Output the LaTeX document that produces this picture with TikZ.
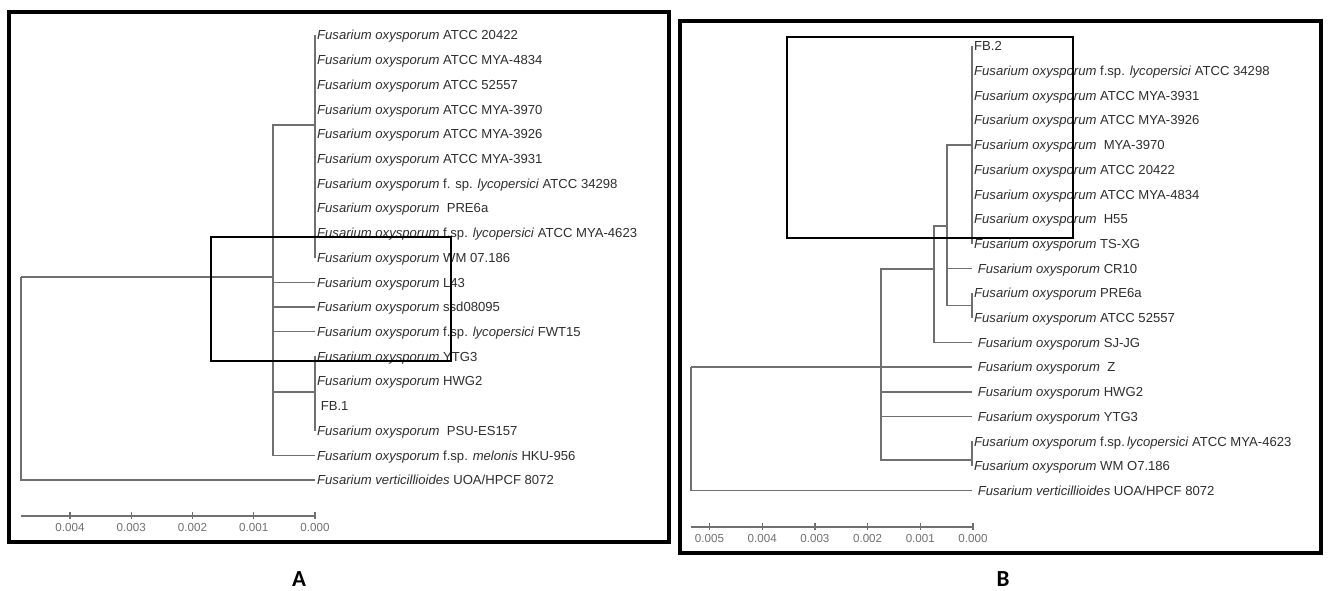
\documentclass[tikz,border=0pt]{standalone}
\usepackage{fontspec}
\setmainfont{Liberation Sans}
\newfontfamily\labfont{Carlito}
\definecolor{brgray}{HTML}{707070}
\definecolor{txtgray}{HTML}{2E2E2E}
\newcommand{\Fo}{\textit{Fusarium oxysporum}}
\begin{document}
\begin{tikzpicture}[x=1pt,y=-1pt,
  br/.style={draw=brgray,line width=1.4pt},
  leaf/.style={anchor=west,inner xsep=2pt,inner ysep=0pt,text height=12.6pt,text depth=3pt,
    font=\fontsize{13.1}{14}\selectfont,text=txtgray},
  frame/.style={draw=black,line width=4pt},
  zoombox/.style={draw=black,line width=2.3pt},
  scalebar/.style={draw=brgray,line width=1.2pt},
  ticklab/.style={font=\fontsize{11.6}{12}\selectfont,text=brgray,inner sep=0pt},
  panellab/.style={font=\labfont\bfseries\fontsize{23}{25}\selectfont,inner sep=0pt,anchor=base}]
\useasboundingbox (0,0) rectangle (1328,590);
\fill[white] (0,0) rectangle (1328,590);

% ---------------- Panel A ----------------
\draw[frame] (8.5,12) rectangle (669,542);
\node[leaf] (A1)  at (315,35.0)  {\Fo{} ATCC 20422};
\node[leaf] (A2)  at (315,59.7)  {\Fo{} ATCC MYA-4834};
\node[leaf] (A3)  at (315,84.4)  {\Fo{} ATCC 52557};
\node[leaf] (A4)  at (315,109.2) {\Fo{} ATCC MYA-3970};
\node[leaf] (A5)  at (315,133.9) {\Fo{} ATCC MYA-3926};
\node[leaf] (A6)  at (315,158.6) {\Fo{} ATCC MYA-3931};
\node[leaf] (A7)  at (315,183.3) {\Fo{} f. sp. \textit{lycopersici} ATCC 34298};
\node[leaf] (A8)  at (315,208.0) {\Fo{}\ \ PRE6a};
\node[leaf] (A9)  at (315,232.8) {\Fo{} f.sp. \textit{lycopersici} ATCC MYA-4623};
\node[leaf] (A10) at (315,257.5) {\Fo{} WM 07.186};
\node[leaf] (A11) at (315,282.2) {\Fo{} L43};
\node[leaf] (A12) at (315,306.9) {\Fo{} ssd08095};
\node[leaf] (A13) at (315,331.6) {\Fo{} f.sp. \textit{lycopersici} FWT15};
\node[leaf] (A14) at (315,356.4) {\Fo{} YTG3};
\node[leaf] (A15) at (315,381.1) {\Fo{} HWG2};
\node[leaf] (A16) at (315,405.8) {\ FB.1};
\node[leaf] (A17) at (315,430.5) {\Fo{}\ \ PSU-ES157};
\node[leaf] (A18) at (315,455.2) {\Fo{} f.sp. \textit{melonis} HKU-956};
\node[leaf] (A19) at (315,480.0) {\textit{Fusarium verticillioides} UOA/HPCF 8072};

\coordinate (cA1) at (315,125);
\coordinate (cA2) at (315,392);
\coordinate (pA)  at (273,277);
\coordinate (rA)  at (21,277);

\foreach \n in {A1,A2,A3,A4,A5,A6,A7,A8,A9,A10} \draw[br] (cA1) |- (\n.west);
\foreach \n in {A14,A15,A16,A17} \draw[br] (cA2) |- (\n.west);
\foreach \n in {cA1,A11.west,A12.west,A13.west,cA2,A18.west} \draw[br] (pA) |- (\n);
\draw[br] (rA) |- (pA);
\draw[br] (rA) |- (A19.west);

% scale bar A
\draw[scalebar] (21,516) -- (315,516);
\foreach \x/\t in {70/0.004,131.25/0.003,192.5/0.002,253.75/0.001,315/0.000}{
  \draw[scalebar] (\x,512) -- (\x,519);
  \node[ticklab] at (\x,527.5) {\t};
}
\draw[zoombox] (211,237) rectangle (451,361);
\node[panellab] (labA) at (299,586) {A};

% ---------------- Panel B ----------------
\draw[frame] (680,21) rectangle (1320.5,553);
\node[leaf] (B0)  at (972,46.0)  {FB.2};
\node[leaf] (B1)  at (972,70.7)  {\Fo{} f.sp. \textit{lycopersici} ATCC 34298};
\node[leaf] (B2)  at (972,95.4)  {\Fo{} ATCC MYA-3931};
\node[leaf] (B3)  at (972,120.1) {\Fo{} ATCC MYA-3926};
\node[leaf] (B4)  at (972,144.8) {\Fo{}\ \ MYA-3970};
\node[leaf] (B5)  at (972,169.5) {\Fo{} ATCC 20422};
\node[leaf] (B6)  at (972,194.2) {\Fo{} ATCC MYA-4834};
\node[leaf] (B7)  at (972,218.9) {\Fo{}\ \ H55};
\node[leaf] (B8)  at (972,243.6) {\Fo{} TS-XG};
\node[leaf] (B9)  at (972,268.3) {\ \Fo{} CR10};
\node[leaf] (B10) at (972,293.0) {\Fo{} PRE6a};
\node[leaf] (B11) at (972,317.7) {\Fo{} ATCC 52557};
\node[leaf] (B12) at (972,342.4) {\ \Fo{} SJ-JG};
\node[leaf] (B13) at (972,367.1) {\ \Fo{}\ \ Z};
\node[leaf] (B14) at (972,391.8) {\ \Fo{} HWG2};
\node[leaf] (B15) at (972,416.5) {\ \Fo{} YTG3};
\node[leaf] (B16) at (972,441.2) {\Fo{} f.sp.\,\textit{lycopersici} ATCC MYA-4623};
\node[leaf] (B17) at (972,465.9) {\Fo{} WM O7.186};
\node[leaf] (B18) at (972,490.6) {\ \textit{Fusarium verticillioides} UOA/HPCF 8072};

\coordinate (bc1) at (972,145);
\coordinate (bc3) at (972,305.5);
\coordinate (bc6) at (972,460);
\coordinate (bn2) at (947,226);
\coordinate (bn4) at (934,269);
\coordinate (bn5) at (881,367.1);
\coordinate (rB)  at (691,367.1);

\foreach \n in {B0,B1,B2,B3,B4,B5,B6,B7,B8} \draw[br] (bc1) |- (\n.west);
\foreach \n in {B10,B11} \draw[br] (bc3) |- (\n.west);
\foreach \n in {B16,B17} \draw[br] (bc6) |- (\n.west);
\foreach \n in {bc1,B9.west,bc3} \draw[br] (bn2) |- (\n);
\foreach \n in {bn2,B12.west} \draw[br] (bn4) |- (\n);
\foreach \n in {bn4,B13.west,B14.west,B15.west,bc6} \draw[br] (bn5) |- (\n);
\draw[br] (rB) |- (bn5);
\draw[br] (rB) |- (B18.west);

% scale bar B
\draw[scalebar] (691,527) -- (973,527);
\foreach \x/\t in {709.5/0.005,762.2/0.004,814.9/0.003,867.6/0.002,920.3/0.001,973/0.000}{
  \draw[scalebar] (\x,523) -- (\x,530);
  \node[ticklab] at (\x,538.5) {\t};
}
\draw[zoombox] (787,37) rectangle (1073,238);
\node[panellab] (labB) at (1003,586) {B};
\end{tikzpicture}
\end{document}
